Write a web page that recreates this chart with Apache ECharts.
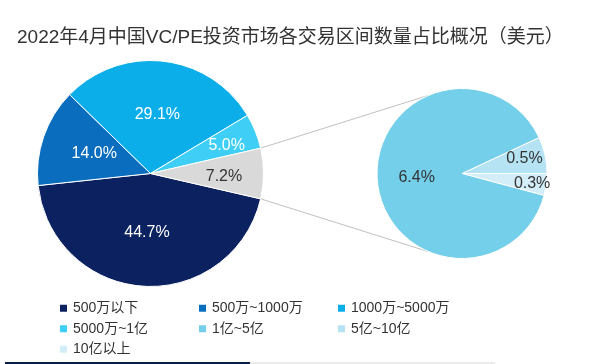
<!DOCTYPE html>
<html><head><meta charset="utf-8">
<script src="https://cdn.jsdelivr.net/npm/echarts@6/dist/echarts.min.js"></script>
<style>html,body{margin:0;padding:0;background:#fff}#c{width:596px;height:364px}</style>
</head><body><div id="c"></div>
<script>
var titleText = '2022年4月中国VC/PE投资市场各交易区间数量占比概况（美元）';
var mainNames = ['500万以下', '500万~1000万', '1000万~5000万', '5000万~1亿', '1亿以上'];
var mainValues = [44.7, 14.0, 29.1, 5.0, 7.2];
var mainColors = ['#0b2160', '#0a6dbd', '#0caeea', '#3fcff6', '#d9d9d9'];
var subNames = ['5亿~10亿', '10亿以上', '1亿~5亿'];
var subValues = [0.5, 0.3, 6.4];
var subColors = ['#b5e3f3', '#d3eef8', '#74cfeb'];
var legendNames = ['500万以下', '500万~1000万', '1000万~5000万', '5000万~1亿', '1亿~5亿', '5亿~10亿', '10亿以上'];

var FONT = '"Liberation Sans", "Noto Sans CJK SC", sans-serif';
var mainC = [150.5, 173.5], mainR = 113;
var subC = [462, 173.5], subR = 85;

var mainTotal = mainValues.reduce(function(a,b){return a+b;},0);
var greyHalf = mainValues[4] / mainTotal * 360 / 2;
var subTotal = subValues.reduce(function(a,b){return a+b;},0);
var subStart = subValues[0] / subTotal * 360;

var mainOffsets = [[0,0],[0,0],[0,0],[21,-6],[14,3]];
var subOffsets = [[18,-5],[25,4],[0,0]];

function rad(d){return d*Math.PI/180;}
var gA = rad(greyHalf), sA = rad(113);
var p1 = [mainC[0]+mainR*Math.cos(gA), mainC[1]-mainR*Math.sin(gA)];
var p2 = [mainC[0]+mainR*Math.cos(gA), mainC[1]+mainR*Math.sin(gA)];
var q1 = [subC[0]+subR*Math.cos(sA), subC[1]-subR*Math.sin(sA)];
var q2 = [subC[0]+subR*Math.cos(sA), subC[1]+subR*Math.sin(sA)];

var chart = echarts.init(document.getElementById('c'));
chart.setOption({
  animation: false,
  backgroundColor: '#fff',
  title: {
    text: titleText, left: 17, top: 28, padding: 0,
    textStyle: {fontSize: 19, fontWeight: 'normal', color: '#333', fontFamily: FONT}
  },
  legend: {
    data: legendNames.map(function(n){return {name: n, icon: 'rect'};}),
    left: 58, top: 298, width: 430, padding: 0,
    itemWidth: 9, itemHeight: 9, itemGap: 0,
    selectedMode: false,
    textStyle: {fontSize: 14, color: '#333', fontFamily: FONT, width: 124, lineHeight: 20.5}
  },
  graphic: [
    {type: 'line', shape: {x1: p1[0], y1: p1[1], x2: q1[0], y2: q1[1]}, style: {stroke: '#b0b0b0', lineWidth: 0.8}, z: 1},
    {type: 'line', shape: {x1: p2[0], y1: p2[1], x2: q2[0], y2: q2[1]}, style: {stroke: '#b0b0b0', lineWidth: 0.8}, z: 1},
    {type: 'rect', shape: {x: 5, y: 362, width: 245, height: 2}, style: {fill: '#0b1d4f'}},
    {type: 'rect', shape: {x: 250, y: 362, width: 245, height: 2}, style: {fill: '#ececec'}}
  ],
  series: [
    {
      type: 'pie', center: mainC, radius: [0, mainR], startAngle: 360 - greyHalf,
      clockwise: true, silent: true, labelLine: {show: false},
      itemStyle: {borderColor: '#fff', borderWidth: 1},
      data: mainNames.map(function(n, i){
        return {name: n, value: mainValues[i], itemStyle: {color: mainColors[i]},
          label: {offset: mainOffsets[i], color: i === 4 ? '#333' : '#fff'}};
      }),
      label: {show: true, position: 'inside', fontSize: 16, fontFamily: FONT,
        formatter: function(p){return p.value.toFixed(1) + '%';}}
    },
    {
      type: 'pie', center: subC, radius: [0, subR], startAngle: subStart,
      clockwise: true, silent: true, labelLine: {show: false},
      itemStyle: {borderColor: '#fff', borderWidth: 1},
      data: subNames.map(function(n, i){
        return {name: n, value: subValues[i], itemStyle: {color: subColors[i]},
          label: {offset: subOffsets[i]}};
      }),
      label: {show: true, position: 'inside', fontSize: 16, color: '#333', fontFamily: FONT,
        formatter: function(p){return p.value.toFixed(1) + '%';}}
    }
  ]
});
</script></body></html>
